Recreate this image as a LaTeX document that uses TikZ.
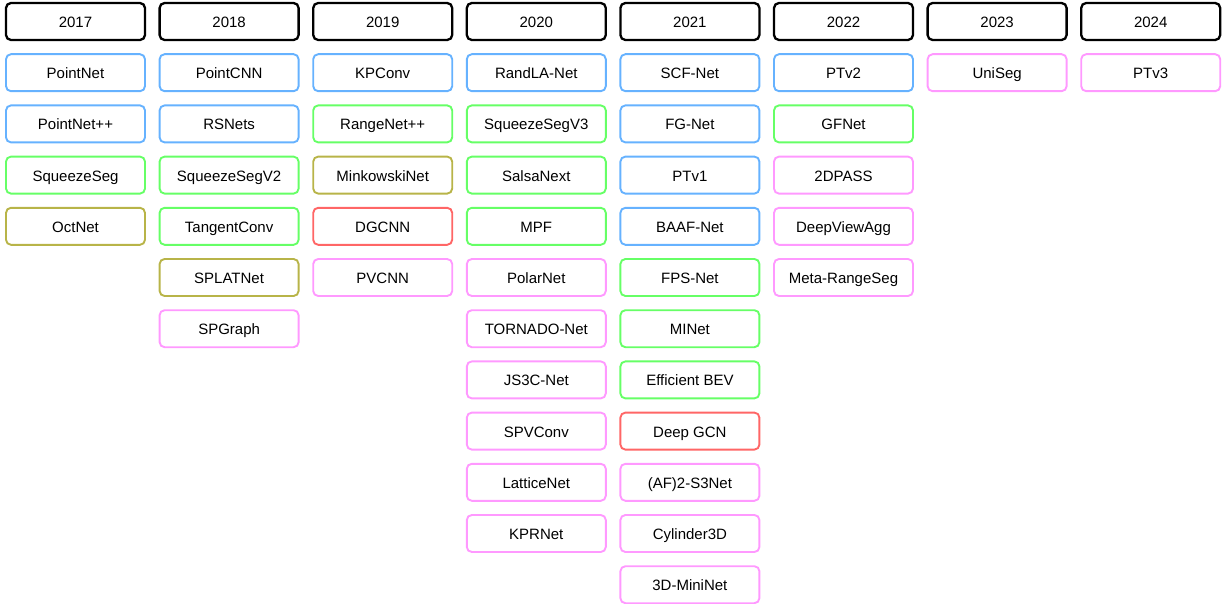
\documentclass[tikz,border=0pt]{standalone}
\usepackage{fontspec}
\setmainfont{Liberation Sans}
\definecolor{pointblue}{HTML}{66B2FF}
\definecolor{projgreen}{HTML}{66FF66}
\definecolor{voxolive}{HTML}{B8B448}
\definecolor{graphred}{HTML}{FF6666}
\definecolor{hybpink}{HTML}{FF99FF}
\begin{document}
\begin{tikzpicture}[x=153.6pt,y=-51.2pt,
    box/.style={draw,rounded corners=5pt,line width=1.9pt,minimum width=139pt,minimum height=37pt,inner sep=0pt,text height=12pt,text depth=0pt,font=\fontsize{15}{18}\selectfont},
    yearbox/.style={box,draw=black,line width=2.3pt},
    bluebox/.style={box,draw=pointblue},
    greenbox/.style={box,draw=projgreen},
    olivebox/.style={box,draw=voxolive},
    redbox/.style={box,draw=graphred},
    pinkbox/.style={box,draw=hybpink}]
    \useasboundingbox (-75.5pt,21.5pt) rectangle (1149.5pt,-582.5pt);
    % years
    \node[yearbox] (y2017) at (0,0) {2017};
    \node[yearbox] (y2018) at (1,0) {2018};
    \node[yearbox] (y2019) at (2,0) {2019};
    \node[yearbox] (y2020) at (3,0) {2020};
    \node[yearbox] (y2021) at (4,0) {2021};
    \node[yearbox] (y2022) at (5,0) {2022};
    \node[yearbox] (y2023) at (6,0) {2023};
    \node[yearbox] (y2024) at (7,0) {2024};
    % 2017
    \node[bluebox] (pointnet) at (0,1) {PointNet};
    \node[bluebox] (pointnetpp) at (0,2) {PointNet++};
    \node[greenbox] (squeezeseg) at (0,3) {SqueezeSeg};
    \node[olivebox] (octnet) at (0,4) {OctNet};
    % 2018
    \node[bluebox] (pointcnn) at (1,1) {PointCNN};
    \node[bluebox] (rsnets) at (1,2) {RSNets};
    \node[greenbox] (squeezesegvii) at (1,3) {SqueezeSegV2};
    \node[greenbox] (tangentconv) at (1,4) {TangentConv};
    \node[olivebox] (splatnet) at (1,5) {SPLATNet};
    \node[pinkbox] (spgraph) at (1,6) {SPGraph};
    % 2019
    \node[bluebox] (kpconv) at (2,1) {KPConv};
    \node[greenbox] (rangenetpp) at (2,2) {RangeNet++};
    \node[olivebox] (minkowskinet) at (2,3) {MinkowskiNet};
    \node[redbox] (dgcnn) at (2,4) {DGCNN};
    \node[pinkbox] (pvcnn) at (2,5) {PVCNN};
    % 2020
    \node[bluebox] (randlanet) at (3,1) {RandLA-Net};
    \node[greenbox] (squeezesegviii) at (3,2) {SqueezeSegV3};
    \node[greenbox] (salsanext) at (3,3) {SalsaNext};
    \node[greenbox] (mpf) at (3,4) {MPF};
    \node[pinkbox] (polarnet) at (3,5) {PolarNet};
    \node[pinkbox] (tornadonet) at (3,6) {TORNADO-Net};
    \node[pinkbox] (jscnet) at (3,7) {JS3C-Net};
    \node[pinkbox] (spvconv) at (3,8) {SPVConv};
    \node[pinkbox] (latticenet) at (3,9) {LatticeNet};
    \node[pinkbox] (kprnet) at (3,10) {KPRNet};
    % 2021
    \node[bluebox] (scfnet) at (4,1) {SCF-Net};
    \node[bluebox] (fgnet) at (4,2) {FG-Net};
    \node[bluebox] (ptvi) at (4,3) {PTv1};
    \node[bluebox] (baafnet) at (4,4) {BAAF-Net};
    \node[greenbox] (fpsnet) at (4,5) {FPS-Net};
    \node[greenbox] (minet) at (4,6) {MINet};
    \node[greenbox] (efficientbev) at (4,7) {Efficient BEV};
    \node[redbox] (deepgcn) at (4,8) {Deep GCN};
    \node[pinkbox] (afsnet) at (4,9) {(AF)2-S3Net};
    \node[pinkbox] (cylinder) at (4,10) {Cylinder3D};
    \node[pinkbox] (mininet) at (4,11) {3D-MiniNet};
    % 2022
    \node[bluebox] (ptvii) at (5,1) {PTv2};
    \node[greenbox] (gfnet) at (5,2) {GFNet};
    \node[pinkbox] (dpass) at (5,3) {2DPASS};
    \node[pinkbox] (deepviewagg) at (5,4) {DeepViewAgg};
    \node[pinkbox] (metarangeseg) at (5,5) {Meta-RangeSeg};
    % 2023 and 2024
    \node[pinkbox] (uniseg) at (6,1) {UniSeg};
    \node[pinkbox] (ptviii) at (7,1) {PTv3};
\end{tikzpicture}
\end{document}
